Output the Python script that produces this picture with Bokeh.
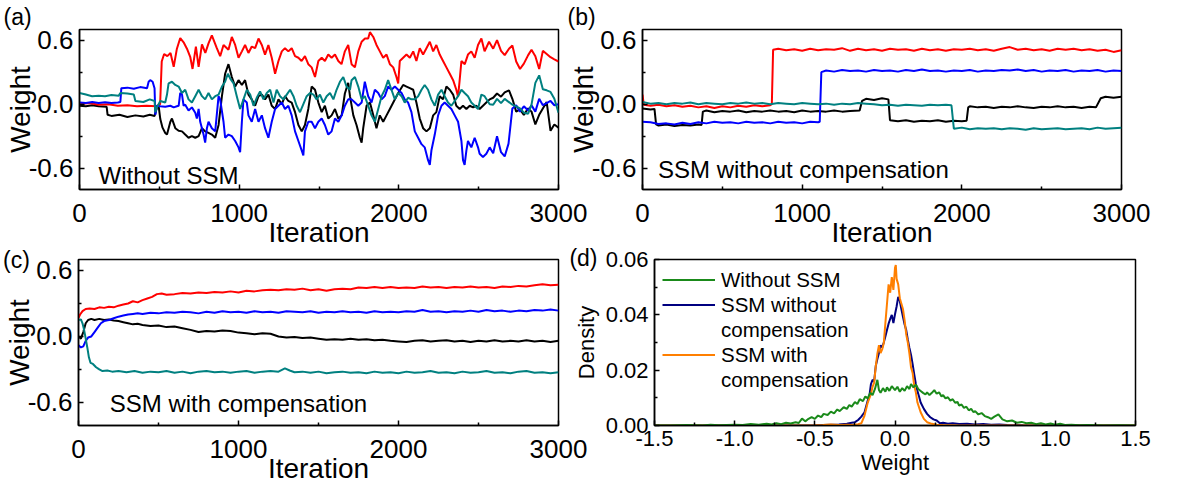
from bokeh.plotting import figure
from bokeh.layouts import row, column
from bokeh.models import (Range1d, Label, FixedTicker, PrintfTickFormatter,
                          Legend, LegendItem)
from bokeh.embed import file_html
from bokeh.resources import INLINE

FONT = "Liberation Sans"

# ---------------- data: panel (a) Without SSM ----------------
RED_A = [(0, 0.00), (60, 0.01), (120, -0.005), (180, 0.0), (240, -0.015), (300, -0.01), (360, -0.02), (420, -0.015),
         (480, -0.02), (505, 0.0), (515, 0.40), (530, 0.47), (550, 0.45), (570, 0.48), (590, 0.35), (610, 0.52),
         (631, 0.62), (652, 0.58), (673, 0.52), (694, 0.44), (708, 0.33), (729, 0.54), (746, 0.35), (767, 0.56),
         (788, 0.48), (808, 0.57), (829, 0.645), (860, 0.525), (881, 0.45), (902, 0.555), (933, 0.51), (954, 0.63),
         (975, 0.555), (996, 0.435), (1017, 0.495), (1037, 0.555), (1058, 0.48), (1079, 0.54), (1100, 0.525),
         (1121, 0.615), (1142, 0.555), (1162, 0.465), (1183, 0.555), (1204, 0.435), (1225, 0.285), (1246, 0.405),
         (1267, 0.495), (1287, 0.525), (1308, 0.495), (1329, 0.525), (1350, 0.45), (1371, 0.435), (1391, 0.405),
         (1412, 0.45), (1433, 0.375), (1454, 0.345), (1475, 0.255), (1496, 0.405), (1517, 0.435), (1537, 0.405),
         (1558, 0.465), (1579, 0.435), (1600, 0.465), (1621, 0.405), (1641, 0.375), (1662, 0.495), (1683, 0.555),
         (1704, 0.375), (1725, 0.345), (1746, 0.495), (1767, 0.585), (1788, 0.615), (1808, 0.615), (1819, 0.675),
         (1840, 0.63), (1860, 0.555), (1881, 0.495), (1902, 0.435), (1923, 0.465), (1944, 0.375), (1965, 0.345),
         (1985, 0.255), (1996, 0.195), (2006, 0.405), (2027, 0.435), (2048, 0.465), (2069, 0.435), (2090, 0.495),
         (2110, 0.405), (2131, 0.525), (2152, 0.465), (2173, 0.525), (2194, 0.585), (2215, 0.495), (2235, 0.555),
         (2256, 0.465), (2277, 0.405), (2298, 0.345), (2319, 0.285), (2340, 0.225), (2360, 0.135), (2371, 0.07),
         (2381, 0.225), (2392, 0.405), (2413, 0.375), (2433, 0.465), (2454, 0.495), (2475, 0.435), (2496, 0.555),
         (2517, 0.615), (2537, 0.495), (2565, 0.585), (2591, 0.52), (2615, 0.60), (2640, 0.50), (2663, 0.46),
         (2690, 0.52), (2711, 0.55), (2735, 0.40), (2759, 0.33), (2783, 0.38), (2810, 0.46), (2831, 0.51),
         (2855, 0.45), (2879, 0.33), (2902, 0.50), (2926, 0.47), (2950, 0.44), (2974, 0.42), (3000, 0.40)]

BLACK_A = [(0, -0.015), (40, -0.02), (80, -0.01), (120, -0.02), (170, -0.025), (176, -0.10), (200, -0.11),
           (250, -0.10), (300, -0.12), (350, -0.105), (400, -0.115), (440, -0.10), (470, -0.11), (485, -0.03),
           (496, -0.02), (506, -0.14), (520, -0.22), (537, -0.27), (548, -0.285), (569, -0.165), (579, -0.135),
           (600, -0.225), (621, -0.25), (642, -0.255), (662, -0.285), (683, -0.315), (704, -0.30), (725, -0.315),
           (746, -0.30), (767, -0.225), (787, -0.255), (808, -0.27), (829, -0.285), (850, -0.315), (871, -0.195),
           (892, 0.075), (912, 0.285), (933, 0.375), (954, 0.255), (975, 0.165), (996, 0.225), (1017, 0.18),
           (1037, 0.225), (1058, 0.09), (1079, 0.045), (1100, -0.015), (1121, 0.075), (1142, 0.09), (1162, 0.045),
           (1183, 0.09), (1204, -0.015), (1225, -0.045), (1246, 0.045), (1267, 0.0), (1287, 0.075), (1308, 0.03),
           (1329, 0.015), (1350, -0.075), (1371, -0.195), (1392, -0.255), (1412, -0.195), (1433, -0.045),
           (1454, 0.165), (1475, 0.135), (1496, 0.015), (1517, -0.075), (1537, -0.015), (1558, -0.135),
           (1579, -0.105), (1600, -0.045), (1621, -0.135), (1642, -0.105), (1662, 0.10), (1683, 0.20), (1694, 0.075),
           (1715, -0.105), (1735, -0.195), (1756, -0.315), (1767, -0.36), (1777, -0.225), (1798, -0.015),
           (1819, 0.015), (1840, -0.105), (1860, -0.225), (1881, -0.105), (1902, -0.165), (1923, -0.105),
           (1944, -0.045), (1965, 0.015), (1996, 0.105), (2027, 0.18), (2048, 0.165), (2069, 0.15), (2090, 0.135),
           (2110, 0.015), (2131, -0.135), (2152, -0.225), (2173, -0.255), (2194, -0.225), (2215, -0.105),
           (2235, -0.075), (2256, 0.075), (2277, 0.045), (2298, 0.165), (2319, 0.135), (2340, 0.09), (2360, -0.015),
           (2381, -0.045), (2402, -0.015), (2423, -0.045), (2444, -0.015), (2465, -0.03), (2485, -0.015),
           (2506, -0.045), (2527, -0.015), (2548, 0.015), (2569, 0.045), (2591, 0.06), (2615, 0.10), (2640, 0.07),
           (2663, 0.11), (2690, 0.13), (2711, 0.05), (2735, -0.07), (2759, -0.05), (2783, -0.10), (2810, -0.04),
           (2831, -0.07), (2855, -0.19), (2879, -0.10), (2902, -0.04), (2926, 0.02), (2950, -0.25), (2974, -0.19),
           (3000, -0.22)]

BLUE_A = [(0, 0.015), (40, 0.01), (80, 0.02), (120, 0.012), (160, 0.018), (200, 0.01), (240, 0.015), (256, 0.02),
          (262, 0.15), (300, 0.155), (340, 0.145), (380, 0.16), (423, 0.15), (433, 0.21), (443, 0.225), (458, 0.21),
          (470, 0.15), (475, -0.10), (485, -0.015), (506, -0.02), (537, -0.025), (569, -0.015), (590, -0.03),
          (610, -0.02), (621, -0.015), (631, 0.105), (642, 0.09), (652, -0.015), (662, -0.005), (683, -0.06),
          (704, -0.03), (725, -0.08), (735, -0.135), (746, -0.045), (756, -0.165), (777, -0.285), (787, -0.36),
          (798, -0.225), (808, -0.165), (829, -0.225), (850, -0.255), (871, 0.075), (881, 0.045), (902, -0.165),
          (912, -0.315), (933, -0.285), (954, -0.30), (975, -0.345), (996, -0.405), (1006, -0.45), (1017, -0.165),
          (1027, 0.045), (1048, 0.015), (1058, -0.105), (1079, -0.165), (1100, -0.045), (1121, -0.165),
          (1142, -0.105), (1162, -0.225), (1183, -0.315), (1204, -0.165), (1225, -0.045), (1246, -0.015),
          (1267, 0.015), (1287, -0.045), (1308, -0.015), (1329, -0.105), (1350, -0.255), (1371, -0.345),
          (1392, -0.435), (1402, -0.48), (1412, -0.255), (1433, -0.165), (1454, -0.165), (1475, -0.225),
          (1496, -0.165), (1517, -0.135), (1537, -0.195), (1558, -0.285), (1579, -0.255), (1600, -0.135),
          (1621, -0.165), (1642, -0.105), (1662, -0.015), (1683, 0.045), (1704, 0.045), (1725, 0.015),
          (1746, -0.015), (1767, 0.015), (1787, 0.21), (1808, 0.075), (1829, 0.015), (1850, 0.135), (1871, 0.105),
          (1892, 0.045), (1912, 0.075), (1933, 0.165), (1954, 0.135), (1975, 0.165), (1996, 0.135), (2017, 0.105),
          (2037, 0.045), (2058, 0.015), (2079, -0.075), (2100, -0.255), (2121, -0.315), (2142, -0.375),
          (2162, -0.405), (2183, -0.525), (2194, -0.57), (2204, -0.435), (2225, -0.285), (2246, -0.105),
          (2267, -0.015), (2287, 0.015), (2308, -0.015), (2329, -0.045), (2350, -0.105), (2371, -0.165),
          (2392, -0.345), (2402, -0.525), (2412, -0.57), (2423, -0.435), (2433, -0.345), (2454, -0.405),
          (2475, -0.315), (2496, -0.405), (2506, -0.465), (2527, -0.495), (2548, -0.465), (2569, -0.405),
          (2591, -0.46), (2615, -0.30), (2640, -0.45), (2663, -0.49), (2687, -0.37), (2711, -0.04), (2735, -0.01),
          (2759, -0.07), (2783, -0.02), (2810, -0.06), (2831, -0.01), (2855, -0.07), (2879, 0.05), (2902, -0.01),
          (2926, 0.01), (2950, 0.03), (2974, -0.01), (3000, 0.0)]

TEAL_A = [(0, 0.105), (40, 0.09), (79, 0.075), (120, 0.08), (160, 0.075), (200, 0.085), (246, 0.08), (256, 0.105),
          (300, 0.10), (340, 0.09), (350, 0.03), (400, 0.02), (440, 0.045), (470, 0.03), (475, -0.075),
          (485, -0.03), (506, 0.03), (537, 0.015), (548, 0.09), (558, 0.195), (579, 0.21), (600, 0.18),
          (621, 0.165), (642, 0.105), (662, 0.135), (683, 0.045), (704, 0.015), (725, 0.075), (746, 0.135),
          (767, 0.075), (787, 0.045), (808, 0.105), (829, 0.045), (850, 0.075), (871, 0.09), (892, 0.165),
          (912, 0.21), (929, 0.285), (944, 0.24), (965, 0.195), (985, 0.075), (1006, -0.045), (1027, 0.045),
          (1048, 0.135), (1069, 0.09), (1090, -0.015), (1110, 0.06), (1131, 0.12), (1152, 0.045), (1173, 0.105),
          (1194, 0.135), (1215, 0.015), (1235, 0.135), (1256, 0.075), (1277, 0.045), (1298, 0.09), (1319, 0.135),
          (1340, 0.075), (1360, -0.015), (1381, -0.075), (1402, 0.0), (1423, 0.075), (1444, 0.105), (1465, 0.09),
          (1485, 0.045), (1506, 0.09), (1527, 0.015), (1548, 0.075), (1569, 0.105), (1590, 0.045), (1610, 0.135),
          (1631, 0.21), (1652, 0.255), (1673, 0.165), (1694, 0.135), (1704, 0.225), (1725, 0.255), (1746, 0.165),
          (1767, 0.045), (1787, 0.075), (1808, -0.015), (1829, -0.105), (1850, -0.165), (1871, -0.045),
          (1892, 0.075), (1912, 0.135), (1933, 0.225), (1954, 0.135), (1975, 0.045), (1996, 0.105), (2017, 0.075),
          (2037, 0.015), (2058, 0.06), (2079, 0.045), (2100, 0.045), (2121, 0.075), (2142, 0.135), (2162, 0.18),
          (2183, 0.135), (2204, 0.045), (2225, -0.015), (2246, 0.09), (2267, 0.135), (2287, 0.075), (2308, 0.015),
          (2329, -0.015), (2350, 0.03), (2371, 0.075), (2392, 0.135), (2412, 0.105), (2433, 0.075), (2454, 0.015),
          (2475, -0.015), (2496, -0.045), (2517, 0.09), (2537, 0.075), (2569, 0.0), (2591, -0.005), (2615, 0.05),
          (2640, 0.01), (2663, 0.05), (2711, -0.005), (2759, -0.04), (2783, -0.08), (2810, -0.09), (2831, -0.005),
          (2855, 0.2), (2879, 0.27), (2902, 0.14), (2926, 0.13), (2950, 0.115), (2974, 0.05), (3000, -0.08)]

# ---------------- data: panel (b) SSM without compensation ----------------
RED_B = [(0, 0.09), (8, -0.005), (50, -0.015), (100, -0.005), (150, -0.02), (200, -0.01), (250, -0.025),
         (300, -0.015), (350, -0.03), (400, -0.02), (450, -0.035), (500, -0.02), (550, -0.03), (600, -0.015),
         (650, -0.025), (700, -0.01), (750, -0.02), (800, -0.01), (810, 0.0), (818, 0.51), (850, 0.52),
         (900, 0.505), (950, 0.515), (1000, 0.50), (1050, 0.52), (1100, 0.505), (1150, 0.515), (1200, 0.51),
         (1250, 0.525), (1300, 0.50), (1350, 0.52), (1400, 0.505), (1450, 0.515), (1500, 0.50), (1550, 0.52),
         (1600, 0.51), (1650, 0.515), (1700, 0.50), (1750, 0.52), (1800, 0.505), (1850, 0.515), (1900, 0.50),
         (1950, 0.515), (2000, 0.51), (2050, 0.52), (2100, 0.505), (2150, 0.515), (2200, 0.50), (2250, 0.52),
         (2300, 0.535), (2350, 0.51), (2400, 0.52), (2450, 0.505), (2500, 0.515), (2550, 0.50), (2600, 0.52),
         (2650, 0.51), (2700, 0.52), (2750, 0.505), (2800, 0.515), (2850, 0.50), (2900, 0.51), (2950, 0.49),
         (3000, 0.505)]

BLUE_B = [(0, -0.165), (50, -0.17), (100, -0.185), (150, -0.18), (200, -0.19), (250, -0.175), (300, -0.185),
          (350, -0.17), (400, -0.18), (450, -0.165), (500, -0.175), (550, -0.17), (600, -0.18), (650, -0.165),
          (700, -0.175), (750, -0.17), (800, -0.18), (850, -0.165), (900, -0.175), (950, -0.17), (1000, -0.18),
          (1050, -0.165), (1100, -0.17), (1110, -0.165), (1120, 0.30), (1150, 0.315), (1200, 0.305), (1250, 0.32),
          (1300, 0.31), (1350, 0.315), (1400, 0.305), (1450, 0.32), (1500, 0.31), (1550, 0.315), (1600, 0.305),
          (1650, 0.32), (1700, 0.31), (1750, 0.325), (1800, 0.31), (1850, 0.315), (1900, 0.305), (1950, 0.315),
          (2000, 0.31), (2050, 0.32), (2100, 0.305), (2150, 0.315), (2200, 0.31), (2250, 0.32), (2300, 0.315),
          (2350, 0.325), (2400, 0.31), (2450, 0.32), (2500, 0.305), (2550, 0.315), (2600, 0.31), (2650, 0.32),
          (2700, 0.305), (2750, 0.315), (2800, 0.31), (2850, 0.32), (2900, 0.305), (2950, 0.315), (3000, 0.31)]

BLACK_B = [(0, -0.04), (50, -0.05), (75, -0.045), (85, -0.19), (100, -0.20), (150, -0.19), (200, -0.205),
           (250, -0.195), (300, -0.20), (350, -0.19), (370, -0.195), (378, -0.07), (400, -0.06), (450, -0.075),
           (500, -0.065), (550, -0.07), (600, -0.06), (650, -0.075), (700, -0.065), (750, -0.07), (800, -0.06),
           (850, -0.07), (900, -0.065), (950, -0.075), (1000, -0.06), (1050, -0.07), (1100, -0.065), (1150, -0.07),
           (1200, -0.06), (1250, -0.07), (1300, -0.065), (1360, -0.06), (1375, 0.03), (1400, 0.05), (1450, 0.04),
           (1500, 0.055), (1540, 0.045), (1550, -0.15), (1600, -0.16), (1650, -0.15), (1700, -0.165),
           (1750, -0.155), (1800, -0.16), (1850, -0.15), (1900, -0.165), (1950, -0.155), (2000, -0.16),
           (2030, -0.155), (2040, -0.03), (2050, -0.02), (2100, -0.03), (2150, -0.025), (2200, -0.035),
           (2250, -0.025), (2300, -0.03), (2350, -0.02), (2400, -0.03), (2450, -0.035), (2500, -0.025),
           (2550, -0.03), (2600, -0.02), (2650, -0.03), (2700, -0.025), (2750, -0.035), (2800, -0.025),
           (2840, -0.03), (2870, 0.055), (2900, 0.07), (2950, 0.06), (3000, 0.07)]

TEAL_B = [(0, 0.02), (50, 0.005), (100, 0.01), (150, 0.0), (200, 0.01), (250, 0.005), (300, 0.015), (350, 0.0),
          (400, 0.01), (450, 0.005), (500, 0.0), (550, 0.01), (600, 0.005), (650, 0.015), (700, 0.005), (750, 0.01),
          (800, 0.0), (850, 0.01), (900, 0.005), (950, 0.0), (1000, 0.01), (1050, 0.005), (1100, 0.0),
          (1150, 0.005), (1200, -0.005), (1250, 0.005), (1300, 0.0), (1350, 0.01), (1400, 0.005), (1450, 0.0),
          (1500, -0.01), (1550, -0.005), (1600, -0.015), (1650, -0.005), (1700, -0.01), (1750, -0.015),
          (1800, -0.005), (1850, -0.01), (1900, -0.005), (1935, -0.01), (1950, -0.23), (2000, -0.22),
          (2050, -0.235), (2100, -0.225), (2150, -0.23), (2200, -0.225), (2250, -0.235), (2300, -0.225),
          (2350, -0.23), (2400, -0.24), (2450, -0.225), (2500, -0.235), (2550, -0.23), (2600, -0.225),
          (2650, -0.235), (2700, -0.23), (2750, -0.225), (2800, -0.235), (2850, -0.22), (2900, -0.23),
          (2950, -0.225), (3000, -0.22)]

# ---------------- data: panel (c) SSM with compensation ----------------
RED_C = [(0, 0.17), (10, 0.20), (25, 0.23), (45, 0.25), (70, 0.255), (100, 0.25), (130, 0.265), (160, 0.26),
         (190, 0.27), (220, 0.265), (250, 0.28), (280, 0.29), (310, 0.30), (340, 0.32), (370, 0.31), (400, 0.33),
         (430, 0.345), (460, 0.36), (490, 0.385), (520, 0.39), (550, 0.38), (600, 0.385), (650, 0.395),
         (700, 0.39), (750, 0.40), (800, 0.395), (850, 0.405), (900, 0.40), (950, 0.41), (1000, 0.40),
         (1050, 0.415), (1100, 0.41), (1150, 0.42), (1200, 0.425), (1250, 0.42), (1300, 0.43), (1350, 0.425),
         (1400, 0.435), (1450, 0.42), (1500, 0.43), (1550, 0.415), (1600, 0.43), (1650, 0.435), (1700, 0.43),
         (1750, 0.445), (1800, 0.44), (1850, 0.45), (1900, 0.44), (1950, 0.45), (2000, 0.44), (2050, 0.445),
         (2100, 0.44), (2150, 0.455), (2200, 0.445), (2250, 0.45), (2300, 0.44), (2350, 0.45), (2400, 0.445),
         (2450, 0.455), (2500, 0.445), (2550, 0.45), (2600, 0.44), (2650, 0.455), (2700, 0.45), (2750, 0.46),
         (2800, 0.455), (2850, 0.465), (2900, 0.475), (2950, 0.465), (3000, 0.47)]

BLUE_C = [(0, -0.08), (15, -0.10), (30, -0.09), (45, -0.04), (60, -0.01), (80, 0.0), (100, 0.04), (120, 0.08),
          (140, 0.12), (160, 0.14), (190, 0.15), (220, 0.165), (250, 0.18), (280, 0.19), (310, 0.20), (340, 0.205),
          (370, 0.21), (400, 0.205), (450, 0.215), (500, 0.21), (550, 0.22), (600, 0.215), (650, 0.225),
          (700, 0.22), (750, 0.21), (800, 0.225), (850, 0.215), (900, 0.23), (950, 0.22), (1000, 0.225),
          (1050, 0.215), (1100, 0.23), (1150, 0.22), (1200, 0.225), (1250, 0.215), (1300, 0.23), (1350, 0.225),
          (1400, 0.22), (1450, 0.23), (1500, 0.215), (1550, 0.225), (1600, 0.22), (1650, 0.23), (1700, 0.22),
          (1750, 0.225), (1800, 0.215), (1850, 0.23), (1900, 0.22), (1950, 0.225), (2000, 0.22), (2050, 0.23),
          (2100, 0.225), (2150, 0.24), (2200, 0.225), (2250, 0.23), (2300, 0.22), (2350, 0.23), (2400, 0.225),
          (2450, 0.235), (2500, 0.225), (2550, 0.24), (2600, 0.23), (2650, 0.235), (2700, 0.225), (2750, 0.235),
          (2800, 0.23), (2850, 0.24), (2900, 0.235), (2950, 0.245), (3000, 0.235)]

BLACK_C = [(0, 0.0), (15, -0.02), (30, 0.04), (45, 0.12), (60, 0.15), (80, 0.16), (100, 0.15), (130, 0.16),
           (160, 0.15), (190, 0.155), (220, 0.145), (250, 0.14), (280, 0.13), (310, 0.12), (340, 0.11),
           (370, 0.115), (400, 0.105), (450, 0.095), (500, 0.10), (550, 0.085), (600, 0.09), (650, 0.075),
           (700, 0.06), (750, 0.04), (800, 0.05), (850, 0.045), (900, 0.055), (950, 0.05), (1000, 0.035),
           (1050, 0.03), (1100, 0.02), (1150, 0.03), (1200, 0.025), (1250, 0.0), (1300, -0.01), (1350, -0.005),
           (1400, -0.015), (1450, -0.01), (1500, -0.02), (1550, -0.03), (1600, -0.025), (1650, -0.03),
           (1700, -0.02), (1750, -0.03), (1800, -0.025), (1850, -0.035), (1900, -0.03), (1950, -0.04),
           (2000, -0.045), (2050, -0.05), (2100, -0.04), (2150, -0.035), (2200, -0.045), (2250, -0.04),
           (2300, -0.035), (2350, -0.045), (2400, -0.04), (2450, -0.05), (2500, -0.04), (2550, -0.045),
           (2600, -0.035), (2650, -0.045), (2700, -0.04), (2750, -0.045), (2800, -0.035), (2850, -0.045),
           (2900, -0.04), (2950, -0.05), (3000, -0.04)]

TEAL_C = [(0, 0.15), (15, 0.155), (25, 0.12), (35, 0.06), (45, -0.02), (55, -0.10), (65, -0.19), (75, -0.24),
          (90, -0.25), (110, -0.28), (130, -0.30), (150, -0.315), (180, -0.31), (210, -0.32), (250, -0.315),
          (300, -0.325), (350, -0.315), (400, -0.33), (450, -0.32), (500, -0.325), (550, -0.315), (600, -0.33),
          (650, -0.32), (700, -0.335), (750, -0.32), (800, -0.315), (850, -0.325), (900, -0.32), (950, -0.33),
          (1000, -0.32), (1050, -0.315), (1100, -0.33), (1150, -0.32), (1200, -0.315), (1250, -0.32),
          (1290, -0.29), (1320, -0.31), (1350, -0.325), (1400, -0.32), (1450, -0.33), (1500, -0.32),
          (1550, -0.335), (1600, -0.325), (1650, -0.32), (1700, -0.33), (1750, -0.325), (1800, -0.335),
          (1850, -0.32), (1900, -0.33), (1950, -0.325), (2000, -0.335), (2050, -0.32), (2100, -0.33),
          (2150, -0.325), (2200, -0.315), (2250, -0.33), (2300, -0.325), (2350, -0.335), (2400, -0.32),
          (2450, -0.33), (2500, -0.325), (2550, -0.315), (2600, -0.33), (2650, -0.325), (2700, -0.335),
          (2750, -0.32), (2800, -0.315), (2850, -0.33), (2900, -0.325), (2950, -0.335), (3000, -0.325)]

# ---------------- data: panel (d) weight densities ----------------
GREEN_D = [(-1.5, 0.0), (-1.4, 0.0), (-1.3, 0.0002), (-1.2, 0.0), (-1.15, 0.0003), (-1.1, 0.0001), (-1.0, 0.0003),
           (-0.95, 0.0002), (-0.9, 0.0005), (-0.85, 0.0003), (-0.8, 0.0006), (-0.77, 0.0004), (-0.74, 0.0008),
           (-0.71, 0.0005), (-0.68, 0.0010), (-0.65, 0.0007), (-0.62, 0.0012), (-0.6, 0.0009), (-0.58, 0.0025),
           (-0.56, 0.0015), (-0.545, 0.0022), (-0.52, 0.0030), (-0.5, 0.0024), (-0.48, 0.0036), (-0.46, 0.0030),
           (-0.445, 0.0042), (-0.42, 0.0038), (-0.4, 0.0050), (-0.38, 0.0044), (-0.36, 0.0058), (-0.345, 0.0052),
           (-0.32, 0.0066), (-0.3, 0.0060), (-0.285, 0.0074), (-0.27, 0.0068), (-0.25, 0.0085), (-0.235, 0.0078),
           (-0.22, 0.0095), (-0.2, 0.0088), (-0.185, 0.0105), (-0.17, 0.0098), (-0.155, 0.0118), (-0.14, 0.0110),
           (-0.125, 0.0132), (-0.11, 0.0165), (-0.1, 0.0128), (-0.09, 0.0118), (-0.075, 0.0135), (-0.06, 0.0122),
           (-0.05, 0.0138), (-0.035, 0.0125), (-0.02, 0.0142), (0.0, 0.0128), (0.015, 0.0140), (0.03, 0.0122),
           (0.045, 0.0135), (0.06, 0.0125), (0.075, 0.0142), (0.09, 0.0132), (0.1, 0.0150), (0.115, 0.0138),
           (0.13, 0.0148), (0.145, 0.0132), (0.16, 0.0125), (0.175, 0.0118), (0.19, 0.0112), (0.2, 0.0120),
           (0.215, 0.0110), (0.23, 0.0118), (0.245, 0.0128), (0.26, 0.0115), (0.275, 0.0120), (0.29, 0.0105),
           (0.3, 0.0110), (0.315, 0.0098), (0.33, 0.0102), (0.345, 0.0090), (0.36, 0.0095), (0.375, 0.0082),
           (0.39, 0.0085), (0.4, 0.0072), (0.415, 0.0076), (0.43, 0.0064), (0.445, 0.0068), (0.46, 0.0055),
           (0.475, 0.0060), (0.49, 0.0048), (0.5, 0.0052), (0.52, 0.0040), (0.54, 0.0045), (0.56, 0.0034),
           (0.58, 0.0030), (0.6, 0.0024), (0.62, 0.0032), (0.645, 0.0040), (0.67, 0.0022), (0.7, 0.0015),
           (0.73, 0.0018), (0.76, 0.0010), (0.79, 0.0013), (0.82, 0.0008), (0.85, 0.0010), (0.88, 0.0005),
           (0.91, 0.0008), (0.94, 0.0004), (0.97, 0.0007), (1.0, 0.0003), (1.03, 0.0006), (1.06, 0.0002),
           (1.1, 0.0003), (1.15, 0.0001), (1.2, 0.0002), (1.3, 0.0), (1.4, 0.0001), (1.5, 0.0)]

NAVY_D = [(-1.5, 0.0), (-0.6, 0.0), (-0.5, 0.0001), (-0.45, 0.0002), (-0.4, 0.0003), (-0.35, 0.0004), (-0.3, 0.0006),
          (-0.27, 0.0010), (-0.25, 0.0012), (-0.23, 0.0020), (-0.21, 0.0032), (-0.19, 0.0048), (-0.17, 0.0090),
          (-0.16, 0.0105), (-0.15, 0.0150), (-0.14, 0.0165), (-0.13, 0.0160), (-0.12, 0.0215), (-0.11, 0.0240),
          (-0.1, 0.0262), (-0.09, 0.0290), (-0.08, 0.0282), (-0.07, 0.0300), (-0.06, 0.0322), (-0.05, 0.0345),
          (-0.04, 0.0368), (-0.03, 0.0385), (-0.02, 0.0400), (-0.01, 0.0370), (0.0, 0.0402), (0.01, 0.0430),
          (0.02, 0.0465), (0.03, 0.0450), (0.04, 0.0420), (0.05, 0.0392), (0.06, 0.0365), (0.07, 0.0345),
          (0.08, 0.0310), (0.09, 0.0280), (0.1, 0.0255), (0.11, 0.0222), (0.12, 0.0185), (0.13, 0.0150),
          (0.14, 0.0125), (0.15, 0.0105), (0.16, 0.0083), (0.18, 0.0060), (0.2, 0.0042), (0.22, 0.0030),
          (0.24, 0.0022), (0.26, 0.0018), (0.28, 0.0008), (0.3, 0.0010), (0.33, 0.0006), (0.36, 0.0008),
          (0.4, 0.0005), (0.45, 0.0006), (0.5, 0.0004), (0.55, 0.0005), (0.6, 0.0003), (0.65, 0.0004),
          (0.7, 0.0002), (0.8, 0.0001), (1.0, 0.0), (1.5, 0.0)]

ORANGE_D = [(-1.5, 0.0), (-0.6, 0.0), (-0.5, 0.0001), (-0.45, 0.0002), (-0.4, 0.0004), (-0.35, 0.0002),
            (-0.3, 0.0003), (-0.26, 0.0002), (-0.23, 0.0005), (-0.21, 0.0008), (-0.19, 0.0036), (-0.17, 0.0083),
            (-0.15, 0.0114), (-0.14, 0.0140), (-0.13, 0.0155), (-0.12, 0.0214), (-0.11, 0.0260), (-0.1, 0.0290),
            (-0.09, 0.0262), (-0.08, 0.0275), (-0.07, 0.0298), (-0.06, 0.0370), (-0.05, 0.0440), (-0.04, 0.0510),
            (-0.03, 0.0480), (-0.02, 0.0536), (-0.01, 0.0490), (0.0, 0.0570), (0.005, 0.0580), (0.01, 0.0530),
            (0.02, 0.0510), (0.03, 0.0460), (0.04, 0.0440), (0.05, 0.0420), (0.06, 0.0380), (0.07, 0.0330),
            (0.08, 0.0300), (0.09, 0.0260), (0.1, 0.0210), (0.11, 0.0190), (0.12, 0.0143), (0.13, 0.0120),
            (0.14, 0.0083), (0.16, 0.0048), (0.18, 0.0024), (0.2, 0.0012), (0.23, 0.0006), (0.26, 0.0003),
            (0.3, 0.0002), (0.35, 0.0001), (0.4, 0.0), (0.5, 0.0), (1.5, 0.0)]

ITER_TICKS = [0, 1000, 2000, 3000]
ITER_MINOR = [500, 1500, 2500]
W_TICKS = [-0.6, 0.0, 0.6]
W_MINOR = [-0.3, 0.3]
D_X_TICKS = [-1.5, -1.0, -0.5, 0.0, 0.5, 1.0, 1.5]
D_X_MINOR = [-1.25, -0.75, -0.25, 0.25, 0.75, 1.25]
D_Y_TICKS = [0.0, 0.02, 0.04, 0.06]
D_Y_MINOR = [0.01, 0.03, 0.05]

RED, BLUE, BLACK, TEAL = "#FF0000", "#0000FF", "#000000", "#008080"
GREEN, NAVY, ORANGE = "#1A8A1A", "#000080", "#FF7F00"


def xs(pts):
    return [p[0] for p in pts]


def ys(pts):
    return [p[1] for p in pts]


def style(p, tick_fs, label_fs, xl, yl, x_std, x_lab_std, y_std, y_lab_std):
    p.xgrid.visible = False
    p.ygrid.visible = False
    p.outline_line_color = "black"
    p.outline_line_width = 1.5
    p.outline_line_alpha = 1.0
    p.background_fill_color = "white"
    p.border_fill_alpha = 0
    for ax in (p.xaxis[0], p.yaxis[0]):
        ax.axis_line_width = 1.5
        ax.major_tick_in = 5
        ax.major_tick_out = 0
        ax.minor_tick_in = 3
        ax.minor_tick_out = 0
        ax.major_tick_line_width = 1.5
        ax.minor_tick_line_width = 1.5
        ax.major_label_text_font = FONT
        ax.major_label_text_font_size = tick_fs
        ax.major_label_text_color = "black"
        ax.axis_label_text_font = FONT
        ax.axis_label_text_font_size = label_fs
        ax.axis_label_text_font_style = "normal"
        ax.axis_label_text_color = "black"
    p.xaxis[0].axis_label = xl
    p.yaxis[0].axis_label = yl
    p.xaxis[0].major_label_standoff = x_std
    p.xaxis[0].axis_label_standoff = x_lab_std
    p.yaxis[0].major_label_standoff = y_std
    p.yaxis[0].axis_label_standoff = y_lab_std


def set_title(p, text, offset):
    p.title.text = text
    p.title.align = "left"
    p.title.offset = offset
    p.title.standoff = 0
    p.title.text_font = FONT
    p.title.text_font_size = "23px"
    p.title.text_font_style = "normal"
    p.title.text_color = "black"


def tag(text, x, y):
    return Label(x=x, y=y, text=text, text_font=FONT, text_font_size="23px",
                 text_align="center", text_baseline="middle", text_color="black")


def weight_panel(width, left, right, top, bottom, height, y_lo, series, note, note_xy, css):
    p = figure(width=width, height=height, x_range=Range1d(0, 3000), y_range=Range1d(y_lo, 0.7),
               output_backend="svg", toolbar_location=None,
               min_border_left=left, min_border_right=right, min_border_top=top, min_border_bottom=bottom,
               styles=css)
    style(p, "26px", "28px", "Iteration", "Weight", 14, -8, 6, -10)
    p.xaxis[0].ticker = FixedTicker(ticks=ITER_TICKS, minor_ticks=ITER_MINOR)
    p.yaxis[0].ticker = FixedTicker(ticks=W_TICKS, minor_ticks=W_MINOR)
    p.yaxis[0].formatter = PrintfTickFormatter(format="%.1f")
    for pts, col in series:
        p.line(xs(pts), ys(pts), line_color=col, line_width=2)
    p.add_layout(Label(x=note_xy[0], y=note_xy[1], text=note, text_font=FONT, text_font_size="24px",
                       text_align="left", text_baseline="alphabetic", text_color="black"))
    return p


# top row: (a) and (b)
pa = weight_panel(590, 79, 32, 29, 57, 250, -0.8,
                  [(BLACK_A, BLACK), (RED_A, RED), (BLUE_A, BLUE), (TEAL_A, TEAL)],
                  "Without SSM", (119, -0.666), {})
set_title(pa, "(a)", -76)
pb = weight_panel(594, 82, 33, 29, 57, 250, -0.8,
                  [(BLACK_B, BLACK), (RED_B, RED), (BLUE_B, BLUE), (TEAL_B, TEAL)],
                  "SSM without compensation", (97, -0.61), {"margin-left": "-30px"})
set_title(pb, "(b)", -75)

# bottom row: (c) and (d)
pc = weight_panel(590, 78, 32, 30, 70, 266, -0.81,
                  [(BLACK_C, BLACK), (RED_C, RED), (BLUE_C, BLUE), (TEAL_C, TEAL)],
                  "SSM with compensation", (195, -0.61), {})
pc.add_layout(tag("(c)", -388, 0.70), "right")

pd = figure(width=594, height=266, x_range=Range1d(-1.5, 1.5), y_range=Range1d(0, 0.06),
            output_backend="svg", toolbar_location=None,
            min_border_left=94, min_border_right=19, min_border_top=30, min_border_bottom=70,
            styles={"margin-left": "-30px"})
style(pd, "22px", "22px", "Weight", "Density", 5, 1, 6, 4)
pd.xaxis[0].ticker = FixedTicker(ticks=D_X_TICKS, minor_ticks=D_X_MINOR)
pd.yaxis[0].ticker = FixedTicker(ticks=D_Y_TICKS, minor_ticks=D_Y_MINOR)
pd.xaxis[0].formatter = PrintfTickFormatter(format="%.1f")
pd.yaxis[0].formatter = PrintfTickFormatter(format="%.2f")
r_navy = pd.line(xs(NAVY_D), ys(NAVY_D), line_color=NAVY, line_width=2)
r_orange = pd.line(xs(ORANGE_D), ys(ORANGE_D), line_color=ORANGE, line_width=2)
r_green = pd.line(xs(GREEN_D), ys(GREEN_D), line_color=GREEN, line_width=2)
r_blank = pd.line(x=[], y=[], line_alpha=0)
legend = Legend(items=[LegendItem(label="Without SSM", renderers=[r_green]),
                       LegendItem(label="SSM without", renderers=[r_navy]),
                       LegendItem(label="compensation", renderers=[r_blank]),
                       LegendItem(label="SSM with", renderers=[r_orange]),
                       LegendItem(label="compensation", renderers=[r_blank])],
                location="top_left")
legend.label_text_font = FONT
legend.label_text_font_size = "20.5px"
legend.label_text_color = "black"
legend.glyph_width = 53
legend.glyph_height = 25
legend.label_height = 25
legend.label_standoff = 6
legend.spacing = 0
legend.padding = 8
legend.margin = 0
legend.border_line_alpha = 0
legend.background_fill_alpha = 0
pd.add_layout(legend)
pd.add_layout(tag("(d)", -1.943, 0.0604), "above")

top_row = row(pa, pb)
bottom_row = row(pc, pd, styles={"margin-top": "-21px"})
layout = column(top_row, bottom_row)

open("out.html", "w").write(file_html(layout, INLINE))
